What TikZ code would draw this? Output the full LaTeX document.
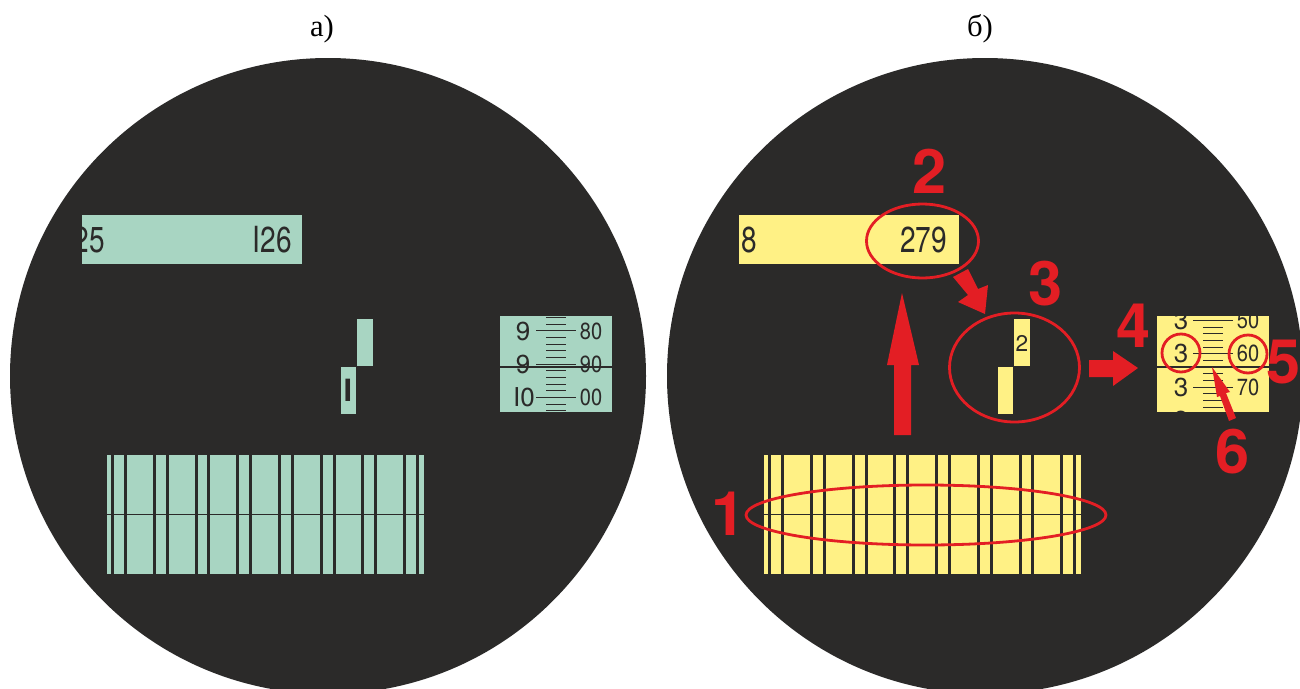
\documentclass[tikz,border=0pt]{standalone}
\usepackage{fontspec}
\setmainfont{Liberation Serif}
\newfontfamily\sans{TeX Gyre Heros}
\newfontfamily\cond[FakeStretch=0.78]{TeX Gyre Heros}
\newfontfamily\scl[FakeStretch=0.86]{TeX Gyre Heros}
\definecolor{dark}{HTML}{2B2A29}
\definecolor{teal}{HTML}{A8D5C2}
\definecolor{yel}{HTML}{FFF185}
\definecolor{redm}{HTML}{E31E24}
\tikzset{
  txt/.style={inner sep=0pt,outer sep=0pt,text=dark},
  bigtxt/.style={txt,font=\cond\fontsize{27}{27}\selectfont},
  sclnum/.style={txt,font=\sans\fontsize{19.5}{19.5}\selectfont},
  sclval/.style={txt,font=\scl\fontsize{17.5}{17.5}\selectfont},
  title/.style={inner sep=0pt,text=black,font=\fontsize{23}{23}\selectfont},
  callout/.style={inner sep=0pt,text=redm,font=\sans\bfseries\fontsize{46}{46}\selectfont},
  ring/.style={draw=redm,line width=2.1pt},
  tick/.style={draw=dark,line width=0.75pt},
  hair/.style={draw=dark,line width=0.8pt},
  arrowred/.style={fill=redm,draw=none},
  barcut/.style={fill=dark,draw=none}
}
\begin{document}
\begin{tikzpicture}[x=0.75pt,y=-0.75pt]
\useasboundingbox (0,0) rectangle (1300,689);
\fill[white] (0,0) rectangle (1300,689);
\fill[dark] (328,376) circle[radius=318];
\fill[dark] (985,376) circle[radius=318];
\node[title] (ta) at (322,29) {а)};
\node[title] (tb) at (980,29) {б)};

% ---- left view a)
\fill[teal] (82,215) rectangle (302,264);
\begin{scope}
 \clip (82,215) rectangle (302,264);
 \node[bigtxt,anchor=east] (l25) at (105,240) {25};
\end{scope}
\node[bigtxt,anchor=east] (l126) at (292,240) {I26};
\fill[teal] (357,319) rectangle (372.7,365.7);
\fill[teal] (340.7,367) rectangle (356,413.7);
\node[txt,font=\sans\bfseries\fontsize{23}{23}\selectfont] (lI) at (348,390) {I};

\fill[teal] (107,455) rectangle (424,574);
\foreach \a/\b in {48/57,87/96,174/183,213/222,300/309,336/345,423/432,462/471,549/558,588/597,675/684,714/723,798/807,837/846,924/933,963/972}
  \fill[barcut] ({95+\a/3},455) rectangle ({95+\b/3},574);
\draw[hair] (107,514.5) -- (424,514.5);

\fill[teal] (499.5,316) rectangle (612,411.7);
\foreach \y in {52,72,112,132,152,172,212,232,252,272,312,331}
  \draw[tick] (546,{300+\y/3}) -- (566,{300+\y/3});
\foreach \y in {92,192,292}
  \draw[tick] (536,{300+\y/3}) -- (576,{300+\y/3});
\node[sclnum] (l9a) at (523,331) {9};
\node[sclnum] (l9b) at (523,364) {9};
\node[sclnum] (l10) at (524,397) {I0};
\node[sclval] (l80) at (591,331) {80};
\node[sclval] (l90) at (591,364) {90};
\node[sclval] (l00) at (591,397) {00};
\draw[hair] (499.5,367) -- (612,367);

% ---- right view b)
\fill[yel] (739,215) rectangle (959,264);
\node[bigtxt,anchor=west] (r8) at (741,240) {8};
\node[bigtxt,anchor=east] (r279) at (947,240) {279};
\fill[yel] (1014,319) rectangle (1029.7,366);
\fill[yel] (998,367) rectangle (1013,413.7);
\node[txt,font=\sans\fontsize{17}{17}\selectfont] (r2) at (1022,343) {2};

\fill[yel] (764,455) rectangle (1081,574);
\foreach \a/\b in {54/63,93/102,180/189,219/228,306/315,345/354,429/438,468/477,555/564,594/603,681/690,720/729,807/816,843/852,930/939,969/978}
  \fill[barcut] ({750+\a/3},455) rectangle ({750+\b/3},574);
\draw[hair] (764,514.5) -- (1081,514.5);

\fill[yel] (1157,316) rectangle (1269,411.7);
\begin{scope}
 \clip (1157,316) rectangle (1269,411.7);
 \foreach \y in {81,101,121,141,181,201,221,241,281,301,321}
   \draw[tick] (1203,{300+\y/3}) -- (1223,{300+\y/3});
 \foreach \y in {61,161,261}
   \draw[tick] (1193,{300+\y/3}) -- (1233,{300+\y/3});
 \node[sclnum] (r3a) at (1181,320) {3};
 \node[sclnum] (r3b) at (1181,353.5) {3};
 \node[sclnum] (r3c) at (1181,387) {3};
 \node[sclnum] (r3d) at (1181,420.5) {3};
 \node[sclval] (r50) at (1248,320) {50};
 \node[sclval] (r60) at (1248,353.5) {60};
 \node[sclval] (r70) at (1248,387) {70};
\end{scope}
\draw[hair] (1157,367) -- (1269,367);

% ---- red marks
\draw[ring] (926,515) ellipse[x radius=180,y radius=30];
\draw[ring] (922.5,241) ellipse[x radius=56,y radius=37];
\draw[ring] (1014.5,367.5) ellipse[x radius=65,y radius=54.5];
\draw[ring] (1181,353) circle[radius=19];
\draw[ring] (1248,354) circle[radius=19];

\fill[arrowred] (902,293) -- (919,365) -- (911,365) -- (911,435) -- (894,435) -- (894,365) -- (887,365) -- cycle;
\fill[arrowred] (953,277) -- (968,269) -- (978,289) -- (988,285) -- (985,314) -- (958,302) -- (968,295) -- cycle;
\fill[arrowred] (1089,360) -- (1113,360) -- (1113,351) -- (1138,368) -- (1113,386) -- (1113,377) -- (1089,377) -- cycle;
\fill[arrowred] (1212,367) -- (1230,392) -- (1226,393) -- (1236,418) -- (1229,421) -- (1220,396) -- (1217,397) -- cycle;

\node[callout] (n1) at (729,514) {1};
\node[callout] (n2) at (930,171) {2};
\node[callout] (n3) at (1046,284) {3};
\node[callout] (n4) at (1134,326) {4};
\node[callout] (n5) at (1284,362) {5};
\node[callout] (n6) at (1233,452) {6};
\end{tikzpicture}
\end{document}
